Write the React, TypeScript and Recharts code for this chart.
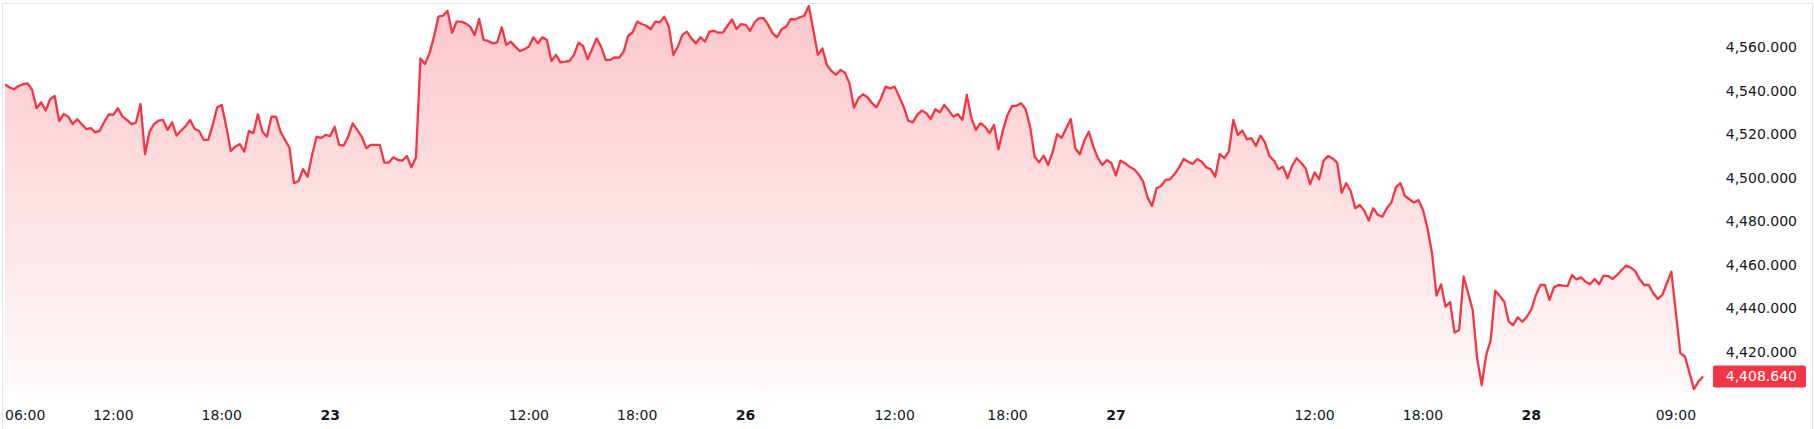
import React from 'react';
import { AreaChart, Area, XAxis, YAxis, ReferenceLine } from 'recharts';

// 15-minute closes, one array per trading day
const session22 = [
  4543.0, 4541.5, 4540.7, 4542.2, 4543.0, 4543.4, 4540.4, 4532.0, 4534.7, 4530.9,
  4536.1, 4537.6, 4526.1, 4529.3, 4528.1, 4524.7, 4526.9, 4524.6, 4522.4, 4522.8,
  4520.9, 4521.7, 4525.8, 4529.2, 4528.9, 4532.0, 4528.1, 4526.6, 4524.7, 4525.3,
  4533.9, 4510.9, 4521.2, 4524.7, 4526.3, 4526.6, 4522.0, 4525.5, 4519.4, 4521.7,
  4523.8, 4526.6, 4522.4, 4521.5, 4517.4, 4517.4, 4524.3, 4532.4, 4533.5, 4523.5,
  4512.3, 4514.3, 4515.5, 4512.0, 4521.5, 4520.5, 4529.2, 4521.2, 4518.9, 4528.1,
  4528.1, 4521.2, 4517.4, 4513.8, 4497.5, 4498.5, 4504.0, 4500.5, 4510.5, 4518.9,
  4518.2, 4519.7,
];

const session23 = [
  4519.2, 4523.5, 4515.1, 4514.8, 4518.9, 4525.0, 4522.0, 4518.9, 4513.6, 4515.1,
  4515.1, 4515.1, 4507.0, 4507.0, 4509.4, 4508.2, 4507.9, 4510.0, 4504.8, 4509.3,
  4554.9, 4552.3, 4557.2, 4564.9, 4574.1, 4574.5, 4576.8, 4566.7, 4571.8, 4571.8,
  4571.0, 4569.5, 4565.7, 4573.0, 4563.4, 4562.9, 4561.8, 4562.3, 4569.2, 4561.1,
  4562.6, 4560.3, 4558.3, 4559.1, 4560.3, 4564.6, 4561.8, 4564.6, 4563.4, 4553.7,
  4556.5, 4553.1, 4553.4, 4553.8, 4556.5, 4562.1, 4560.6, 4554.5, 4559.1, 4564.1,
  4560.3, 4554.2, 4554.2, 4555.4, 4555.2, 4558.0, 4565.3, 4566.9, 4571.8, 4570.7,
  4569.9, 4568.3, 4571.8, 4571.5, 4574.1, 4569.5, 4556.5, 4560.3, 4565.7, 4567.2,
  4564.1, 4561.8, 4564.6, 4562.6, 4567.2, 4567.6, 4566.7, 4566.9, 4569.9, 4572.8,
  4568.4, 4570.7,
];

const session26 = [
  4570.3, 4567.6, 4571.5, 4573.4, 4573.4, 4570.3, 4566.4, 4564.6, 4568.4, 4569.5,
  4573.0, 4572.8, 4573.8, 4574.5, 4579.0, 4567.9, 4556.5, 4559.5, 4551.9, 4549.1,
  4547.3, 4549.6, 4548.3, 4543.4, 4532.2, 4536.6, 4538.4, 4537.0, 4534.3, 4532.4,
  4536.6, 4541.9, 4541.1, 4541.9, 4537.3, 4532.7, 4526.3, 4525.5, 4528.9, 4530.9,
  4529.7, 4527.0, 4531.5, 4530.1, 4533.5, 4530.9, 4528.1, 4529.3, 4526.6, 4538.1,
  4527.4, 4522.0, 4525.1, 4523.5, 4520.5, 4524.3, 4513.1, 4522.0, 4528.9, 4533.0,
  4533.1, 4534.3, 4531.5, 4523.5, 4509.7, 4507.1, 4510.2, 4505.9, 4512.0, 4520.1,
  4518.4, 4522.8, 4527.0, 4513.6, 4510.8, 4517.1, 4521.2, 4514.3, 4509.0, 4505.9,
  4508.2, 4506.7,
];

const session27 = [
  4501.0, 4507.9, 4506.7, 4505.1, 4503.9, 4501.7, 4498.5, 4491.0, 4487.0, 4495.2,
  4496.2, 4499.0, 4499.3, 4501.7, 4504.8, 4508.6, 4507.4, 4506.3, 4508.6, 4507.4,
  4504.8, 4503.9, 4500.5, 4510.9, 4509.0, 4512.0, 4526.6, 4519.7, 4521.7, 4517.7,
  4518.2, 4514.6, 4519.4, 4516.3, 4510.0, 4507.9, 4503.9, 4505.1, 4499.8, 4505.4,
  4509.0, 4506.9, 4504.4, 4497.1, 4502.5, 4499.3, 4507.9, 4510.0, 4508.9, 4506.9,
  4493.1, 4497.5, 4493.9, 4486.0, 4487.5, 4484.9, 4480.3, 4486.0, 4482.9, 4482.1,
  4486.0, 4488.6, 4495.6, 4497.5, 4491.6, 4490.1, 4488.6, 4489.8, 4485.2, 4476.8,
  4465.3, 4445.8, 4451.0, 4440.7, 4442.8, 4428.8, 4430.0, 4454.6, 4446.9, 4439.2,
  4417.0, 4404.7, 4418.5, 4425.4, 4448.1, 4445.7, 4443.0, 4433.8, 4432.3, 4435.9,
  4433.8, 4436.1,
];

const session28 = [
  4439.5, 4446.1, 4450.7, 4450.7, 4443.8, 4449.6, 4450.7, 4450.4, 4450.2, 4455.3,
  4453.3, 4454.2, 4452.2, 4451.0, 4453.5, 4451.0, 4455.0, 4454.8, 4453.5, 4455.3,
  4457.6, 4459.6, 4458.7, 4457.1, 4453.3, 4450.7, 4450.7, 4446.9, 4444.3, 4446.1,
  4451.5, 4456.8, 4438.0, 4419.3, 4417.8, 4410.4, 4402.8, 4406.3, 4408.64,
];

// bar index of each time-scale label
const timeTickIdx = [0, 24, 48, 72, 116, 140, 164, 197, 222, 246, 290, 314, 338, 370];
const timeTickLabels = [
  '06:00', '12:00', '18:00', '23', '12:00', '18:00', '26',
  '12:00', '18:00', '27', '12:00', '18:00', '28', '09:00',
];
const priceTicks = [4420, 4440, 4460, 4480, 4500, 4520, 4540, 4560];
const priceDomain = [4401.5, 4579.9];

const prices = [...session22, ...session23, ...session26, ...session27, ...session28];
const lastPrice = prices[prices.length - 1];
const data = prices.map((p, i) => ({ i, p }));

const RED = '#f23645';
const TEXT = '#131722';
const FONT = '"DejaVu Sans", sans-serif';

const fmt = (v: number) =>
  v.toLocaleString('en-US', { minimumFractionDigits: 3, maximumFractionDigits: 3 });

function TimeTick({ x, y, payload }: any) {
  const k = timeTickIdx.indexOf(payload.value);
  const label = timeTickLabels[k] ?? '';
  const isDay = !label.includes(':');
  return (
    <text
      x={x}
      y={y + 23}
      textAnchor={k === 0 ? 'start' : 'middle'}
      dominantBaseline="central"
      fontFamily={FONT}
      fontSize={14}
      fontWeight={isDay ? 700 : 400}
      fill={TEXT}
    >
      {label}
    </text>
  );
}

function PriceTick({ x, y, payload }: any) {
  return (
    <text
      x={x + 85}
      y={y}
      textAnchor="end"
      dominantBaseline="central"
      fontFamily={FONT}
      fontSize={14}
      fill={TEXT}
    >
      {fmt(payload.value)}
    </text>
  );
}

function PriceTag({ viewBox }: any) {
  if (!viewBox) return null;
  const right = viewBox.x + viewBox.width;
  return (
    <g>
      <rect x={right + 1} y={viewBox.y - 11} width={93} height={22} rx={2} fill={RED} />
      <text
        x={right + 85}
        y={viewBox.y}
        textAnchor="end"
        dominantBaseline="central"
        fontFamily={FONT}
        fontSize={14}
        fill="#ffffff"
      >
        {fmt(lastPrice)}
      </text>
    </g>
  );
}

export default function App() {
  return (
    <div style={{ position: 'relative', width: 1814, height: 429, background: '#fff', overflow: 'hidden' }}>
      <style>{'body{margin:0}'}</style>
      <div
        style={{
          position: 'absolute',
          left: 2,
          top: 3,
          width: 1809,
          height: 440,
          borderTop: '1px solid #e0e3eb',
          borderLeft: '1px solid #e0e3eb',
          borderRight: '1px solid #e0e3eb',
        }}
      />
      <div style={{ position: 'absolute', left: 0, top: 0 }}>
        <AreaChart width={1814} height={429} data={data} margin={{ top: 4, right: 0, left: 5, bottom: 0 }}>
          <defs>
            <linearGradient id="redFade" x1="0" y1="0" x2="0" y2="1">
              <stop offset="0%" stopColor={RED} stopOpacity={0.28} />
              <stop offset="100%" stopColor={RED} stopOpacity={0.03} />
            </linearGradient>
          </defs>
          <XAxis
            dataKey="i"
            type="number"
            domain={[0, 378]}
            ticks={timeTickIdx}
            interval={0}
            allowDataOverflow
            height={37}
            axisLine={false}
            tickLine={false}
            tickSize={0}
            tickMargin={0}
            tick={<TimeTick />}
          />
          <YAxis
            orientation="right"
            type="number"
            domain={priceDomain}
            ticks={priceTicks}
            interval={0}
            allowDataOverflow
            width={102}
            axisLine={false}
            tickLine={false}
            tickSize={0}
            tickMargin={0}
            tick={<PriceTick />}
          />
          <Area
            type="linear"
            dataKey="p"
            stroke={RED}
            strokeWidth={2.3}
            strokeLinejoin="round"
            fill="url(#redFade)"
            fillOpacity={1}
            baseValue={priceDomain[0]}
            dot={false}
            activeDot={false}
            isAnimationActive={false}
          />
          <ReferenceLine
            y={lastPrice}
            stroke="none"
            ifOverflow="visible"
            label={(props: any) => <PriceTag {...props} />}
          />
        </AreaChart>
      </div>
    </div>
  );
}
